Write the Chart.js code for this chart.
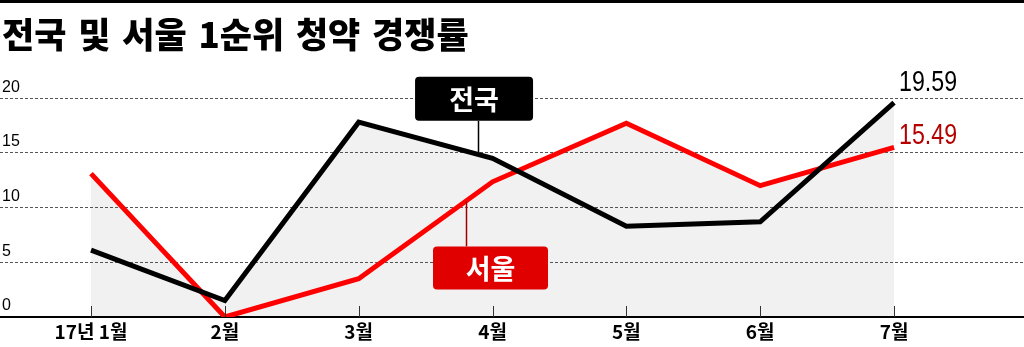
<!DOCTYPE html>
<html lang="ko">
<head>
<meta charset="UTF-8">
<title>전국 및 서울 1순위 청약 경쟁률</title>
<script src="https://cdn.jsdelivr.net/npm/chart.js"></script>
<style>
  body { margin: 0; width: 1024px; height: 347px; overflow: hidden; background: #fff; position: relative; }
  #bar { position: absolute; left: 0; top: 0; width: 1024px; height: 3px; background: #000; }
  #title { position: absolute; left: 2px; top: 13px; font: 900 35px "Noto Sans CJK KR"; line-height: 40px; word-spacing: 2px; white-space: nowrap; color: #000; }
  #wrap { position: absolute; left: 0; top: 0; width: 1024px; height: 347px; }
</style>
</head>
<body>
<div id="wrap"><canvas id="chart" width="1024" height="347"></canvas></div>
<div id="bar"></div>
<div id="title">전국 및 서울 1순위 청약 경쟁률</div>

<script>
    const months = ['17년 1월', '2월', '3월', '4월', '5월', '6월', '7월'];
    const national = [6.1, 1.5, 17.8, 14.5, 8.3, 8.7, 19.59];
    const seoul = [13.1, 0.0, 3.5, 12.35, 17.7, 12.0, 15.49];
    const yTicks = [0, 5, 10, 15, 20];

    const toPoints = arr => arr.map((v, i) => ({ x: i, y: v }));

    // kleine Striche auf der x-Achse, nach oben
    const tickMarks = {
        id: 'tickMarks',
        afterDatasetsDraw(chart) {
            const ctx = chart.ctx;
            const xs = chart.scales.x;
            const bottom = chart.chartArea.bottom;
            ctx.save();
            ctx.strokeStyle = '#333';
            ctx.lineWidth = 1;
            months.forEach((m, i) => {
                const px = Math.round(xs.getPixelForValue(i)) + 0.5;
                ctx.beginPath();
                ctx.moveTo(px, bottom - 11);
                ctx.lineTo(px, bottom);
                ctx.stroke();
            });
            ctx.restore();
        }
    };

    // Wert am letzten Punkt (schmal gestaucht)
    const endLabels = {
        id: 'endLabels',
        afterDatasetsDraw(chart, args, opts) {
            const ctx = chart.ctx;
            opts.items.forEach(it => {
                const ds = chart.data.datasets[it.dataset].data;
                const last = ds[ds.length - 1];
                const px = chart.scales.x.getPixelForValue(last.x);
                const py = chart.scales.y.getPixelForValue(last.y);
                ctx.save();
                ctx.translate(px + 5, py + it.dy);
                ctx.scale(0.8, 1);
                ctx.font = '29px "Liberation Sans"';
                ctx.fillStyle = it.color;
                ctx.textAlign = 'left';
                ctx.textBaseline = 'alphabetic';
                ctx.fillText(last.y.toFixed(2), 0, 0);
                ctx.restore();
            });
        }
    };

    // Beschriftungskästen mit Verbindungslinie
    const callouts = {
        id: 'callouts',
        afterDatasetsDraw(chart, args, opts) {
            const ctx = chart.ctx;
            const xs = chart.scales.x, ys = chart.scales.y;
            ctx.save();
            opts.items.forEach(c => {
                const cx = xs.getPixelForValue(c.x);
                const cy = ys.getPixelForValue(c.y);
                const data = chart.data.datasets[c.dataset].data;
                const i0 = Math.floor(c.lineX), t = c.lineX - i0;
                const lineY = ys.getPixelForValue(data[i0].y + (data[i0 + 1].y - data[i0].y) * t);
                const lx = Math.round(xs.getPixelForValue(c.lineX)) + 0.5;
                const edge = lineY < cy ? cy - c.h / 2 : cy + c.h / 2;
                ctx.strokeStyle = c.lineColor;
                ctx.lineWidth = 1.5;
                ctx.beginPath();
                ctx.moveTo(lx, lineY);
                ctx.lineTo(lx, edge);
                ctx.stroke();

                ctx.fillStyle = c.color;
                ctx.beginPath();
                ctx.roundRect(cx - c.w / 2, cy - c.h / 2, c.w, c.h, 4);
                ctx.fill();
                ctx.fillStyle = '#fff';
                ctx.font = 'bold 27px "Noto Sans CJK KR"';
                ctx.textAlign = 'center';
                ctx.textBaseline = 'middle';
                ctx.fillText(c.text, cx, cy + 1);
            });
            ctx.restore();
        }
    };

    new Chart(document.getElementById('chart'), {
        type: 'line',
        data: {
            datasets: [
                {
                    label: '전국',
                    data: toPoints(national),
                    borderColor: '#000',
                    backgroundColor: '#f1f1f1',
                    borderWidth: 5,
                    fill: 'origin',
                    pointRadius: 0,
                    tension: 0
                },
                {
                    label: '서울',
                    data: toPoints(seoul),
                    borderColor: '#ff0000',
                    backgroundColor: '#f1f1f1',
                    borderWidth: 5,
                    fill: 'origin',
                    pointRadius: 0,
                    tension: 0
                }
            ]
        },
        options: {
            responsive: false,
            animation: false,
            layout: { padding: { top: 62, left: 0, right: 0, bottom: 0 } },
            plugins: {
                legend: { display: false },
                tooltip: { enabled: false },
                filler: { drawTime: 'beforeDraw' },
                endLabels: {
                    items: [
                        { dataset: 0, color: '#000', dy: -12 },
                        { dataset: 1, color: '#b50000', dy: -3 }
                    ]
                },
                callouts: {
                    items: [
                        { text: '전국', dataset: 0, x: 2.862, y: 19.94, w: 118, h: 44, color: '#000', lineColor: '#000', lineX: 2.892 },
                        { text: '서울', dataset: 1, x: 2.985, y: 4.48, w: 115, h: 43, color: '#e00000', lineColor: '#a00000', lineX: 2.80 }
                    ]
                }
            },
            scales: {
                x: {
                    type: 'linear',
                    min: -0.68,
                    max: 6.971,
                    afterBuildTicks: s => { s.ticks = months.map((m, i) => ({ value: i })); },
                    ticks: {
                        autoSkip: false,
                        maxRotation: 0,
                        padding: 4,
                        color: '#000',
                        font: { family: '"Noto Sans CJK KR"', size: 19, weight: 'bold', lineHeight: 1.16 },
                        callback: v => months[v]
                    },
                    grid: { drawOnChartArea: false, drawTicks: false },
                    border: { display: true, color: '#000', width: 2 }
                },
                y: {
                    min: 0,
                    max: 23.3,
                    afterBuildTicks: s => { s.ticks = yTicks.map(v => ({ value: v })); },
                    afterFit: s => { s.width = 0; },
                    ticks: {
                        mirror: true,
                        padding: 2,
                        labelOffset: -11,
                        color: '#000',
                        font: { family: '"Liberation Sans"', size: 16 }
                    },
                    grid: { color: '#555', lineWidth: 1, drawTicks: false },
                    border: { display: false, dash: [3, 2] }
                }
            }
        },
        plugins: [tickMarks, endLabels, callouts]
    });
</script>
</body>
</html>
